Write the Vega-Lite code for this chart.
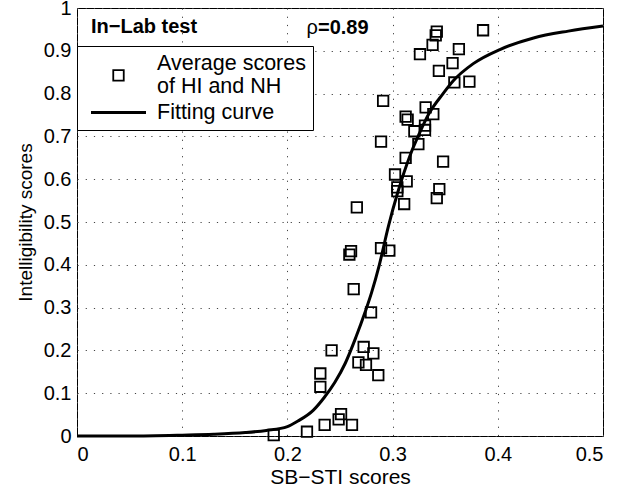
{
  "$schema": "https://vega.github.io/schema/vega-lite/v6.json",
  "width": 526,
  "height": 428,
  "autosize": {"type": "none"},
  "padding": {"left": 77, "top": 8, "right": 17, "bottom": 54},
  "background": "white",
  "config": {
    "font": "Liberation Sans",
    "view": {"stroke": "black", "strokeWidth": 1},
    "axis": {
      "domain": false,
      "ticks": false,
      "grid": true,
      "gridColor": "#444",
      "gridDash": [1.2, 7],
      "gridWidth": 1,
      "labelFont": "Liberation Sans",
      "labelFontSize": 20,
      "labelColor": "black",
      "titleFont": "Liberation Sans",
      "titleFontWeight": "normal",
      "titleColor": "black"
    }
  },
  "layer": [
    {
      "data": {"values": [
        {"x": 0.187, "y": 0.002}, {"x": 0.2186, "y": 0.010}, {"x": 0.2354, "y": 0.026},
        {"x": 0.2487, "y": 0.039}, {"x": 0.251, "y": 0.051}, {"x": 0.2614, "y": 0.026},
        {"x": 0.2313, "y": 0.115}, {"x": 0.2313, "y": 0.146}, {"x": 0.242, "y": 0.200},
        {"x": 0.2725, "y": 0.208}, {"x": 0.2817, "y": 0.193}, {"x": 0.2675, "y": 0.172},
        {"x": 0.2747, "y": 0.166}, {"x": 0.2864, "y": 0.142}, {"x": 0.2605, "y": 0.432},
        {"x": 0.2589, "y": 0.424}, {"x": 0.289, "y": 0.439}, {"x": 0.2969, "y": 0.433},
        {"x": 0.263, "y": 0.343}, {"x": 0.2795, "y": 0.289}, {"x": 0.291, "y": 0.783},
        {"x": 0.289, "y": 0.688}, {"x": 0.266, "y": 0.534}, {"x": 0.3314, "y": 0.768},
        {"x": 0.3387, "y": 0.752}, {"x": 0.3124, "y": 0.746}, {"x": 0.3143, "y": 0.739},
        {"x": 0.3308, "y": 0.725}, {"x": 0.3308, "y": 0.715}, {"x": 0.3207, "y": 0.712},
        {"x": 0.3245, "y": 0.682}, {"x": 0.3124, "y": 0.650}, {"x": 0.348, "y": 0.641},
        {"x": 0.3023, "y": 0.611}, {"x": 0.3134, "y": 0.595}, {"x": 0.3045, "y": 0.581},
        {"x": 0.3045, "y": 0.572}, {"x": 0.3444, "y": 0.577}, {"x": 0.342, "y": 0.556},
        {"x": 0.311, "y": 0.542}, {"x": 0.342, "y": 0.945}, {"x": 0.341, "y": 0.936},
        {"x": 0.338, "y": 0.914}, {"x": 0.326, "y": 0.892}, {"x": 0.386, "y": 0.948},
        {"x": 0.363, "y": 0.904}, {"x": 0.357, "y": 0.871}, {"x": 0.344, "y": 0.853},
        {"x": 0.3587, "y": 0.826}, {"x": 0.373, "y": 0.828}
      ]},
      "mark": {"type": "point", "filled": false, "color": "black", "opacity": 1, "shape": "square", "size": 110, "strokeWidth": 1.8},
      "encoding": {
        "x": {
          "field": "x", "type": "quantitative",
          "scale": {"domain": [0, 0.5], "nice": false, "zero": false},
          "axis": {"values": [0, 0.1, 0.2, 0.3, 0.4, 0.5], "format": "~g", "title": "SB−STI scores",
                   "titleFontSize": 21, "labelPadding": 8, "titlePadding": 2}
        },
        "y": {
          "field": "y", "type": "quantitative",
          "scale": {"domain": [0, 1], "nice": false},
          "axis": {"values": [0, 0.1, 0.2, 0.3, 0.4, 0.5, 0.6, 0.7, 0.8, 0.9, 1], "format": "~g",
                   "title": "Intelligibility scores", "titleFontSize": 19, "labelPadding": 6, "titlePadding": 8}
        }
      }
    },
    {
      "data": {"values": [
        {"x": 0.0, "y": 0.0}, {"x": 0.05, "y": 0.0}, {"x": 0.1, "y": 0.002}, {"x": 0.13, "y": 0.004},
        {"x": 0.16, "y": 0.008}, {"x": 0.18, "y": 0.013}, {"x": 0.2, "y": 0.022}, {"x": 0.21, "y": 0.035},
        {"x": 0.2245, "y": 0.06}, {"x": 0.235, "y": 0.09}, {"x": 0.245, "y": 0.125}, {"x": 0.255, "y": 0.17},
        {"x": 0.265, "y": 0.23}, {"x": 0.2738, "y": 0.289}, {"x": 0.28, "y": 0.335}, {"x": 0.2874, "y": 0.4},
        {"x": 0.296, "y": 0.49}, {"x": 0.305, "y": 0.57}, {"x": 0.3165, "y": 0.655}, {"x": 0.326, "y": 0.71},
        {"x": 0.335, "y": 0.755}, {"x": 0.348, "y": 0.8}, {"x": 0.3577, "y": 0.83}, {"x": 0.3767, "y": 0.87},
        {"x": 0.402, "y": 0.903}, {"x": 0.434, "y": 0.93}, {"x": 0.467, "y": 0.946}, {"x": 0.5, "y": 0.958}
      ]},
      "mark": {"type": "line", "color": "black", "strokeWidth": 3, "interpolate": "monotone"},
      "encoding": {
        "x": {"field": "x", "type": "quantitative"},
        "y": {"field": "y", "type": "quantitative"}
      }
    },
    {
      "data": {"values": [
        {"series": "Average scores of HI and NH", "x": 0.3, "y": 0.5},
        {"series": "Fitting curve", "x": 0.3, "y": 0.5}
      ]},
      "transform": [{"filter": "false"}],
      "mark": {"type": "point", "filled": false, "color": "black", "opacity": 1},
      "encoding": {
        "x": {"field": "x", "type": "quantitative"},
        "y": {"field": "y", "type": "quantitative"},
        "shape": {
          "field": "series", "type": "nominal",
          "scale": {"domain": ["Average scores of HI and NH", "Fitting curve"], "range": ["M-1,1.2H1V3.2H-1Z", "M-2.5,0H2.5"]},
          "legend": {
            "title": null,
            "orient": "none",
            "legendX": 0,
            "legendY": 38,
            "fillColor": "white",
            "strokeColor": "black",
            "padding": 7,
            "symbolOffset": 22,
            "labelOffset": 26,
            "labelFontSize": 21.5,
            "labelColor": "black",
            "labelLimit": 400,
            "rowPadding": 2,
            "symbolStrokeColor": "black",
            "symbolOpacity": 1,
            "labelExpr": "datum.label == 'Average scores of HI and NH' ? ['Average scores', 'of HI and NH'] : datum.label"
          }
        },
        "size": {
          "field": "series", "type": "ordinal",
          "scale": {"domain": ["Average scores of HI and NH", "Fitting curve"], "range": [110, 484]},
          "legend": {"title": null}
        },
        "strokeWidth": {
          "field": "series", "type": "ordinal",
          "scale": {"domain": ["Average scores of HI and NH", "Fitting curve"], "range": [1.8, 3]},
          "legend": {"title": null}
        }
      }
    },
    {
      "data": {"values": [
        {"x": 0.0133, "y": 0.941, "t": "In−Lab test"},
        {"x": 0.2291, "y": 0.939, "t": "=0.89"}
      ]},
      "mark": {"type": "text", "align": "left", "baseline": "alphabetic", "fontWeight": "bold", "fontSize": 20, "color": "black"},
      "encoding": {
        "x": {"field": "x", "type": "quantitative"},
        "y": {"field": "y", "type": "quantitative"},
        "text": {"field": "t"}
      }
    },
    {
      "data": {"values": [{"x": 0.2291, "y": 0.939, "t": "ρ"}]},
      "mark": {"type": "text", "align": "right", "baseline": "alphabetic", "fontSize": 20, "color": "black"},
      "encoding": {
        "x": {"field": "x", "type": "quantitative"},
        "y": {"field": "y", "type": "quantitative"},
        "text": {"field": "t"}
      }
    }
  ]
}
